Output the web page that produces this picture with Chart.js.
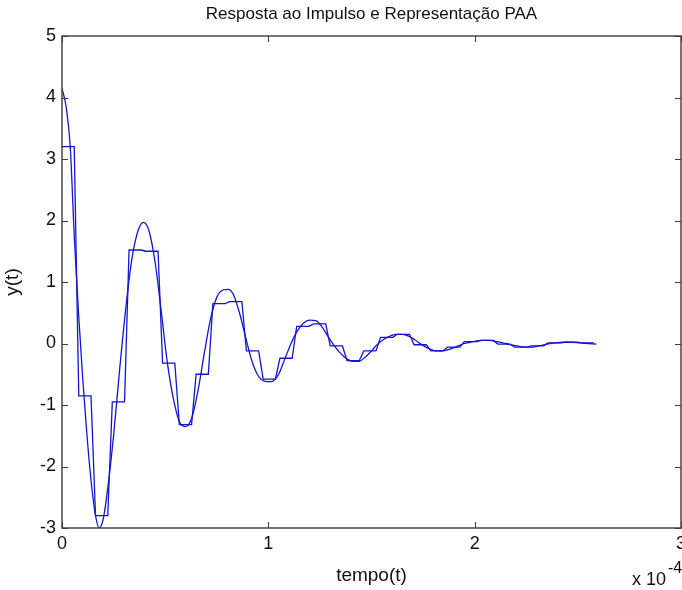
<!DOCTYPE html>
<html>
<head>
<meta charset="utf-8">
<title>Resposta ao Impulso e Representação PAA</title>
<script src="https://cdn.jsdelivr.net/npm/chart.js@4.4.1/dist/chart.umd.min.js"></script>
<style>
  html, body { margin: 0; padding: 0; background: #fff; }
  canvas { display: block; }
</style>
</head>
<body>
<canvas id="myChart" width="682" height="590"></canvas>
<script>
'use strict';
// data (time in units of 1e-4 s)
const curveTime = [
  0.000, 0.020, 0.040, 0.060, 0.080, 0.100, 0.120, 0.140, 0.160, 0.180,
  0.200, 0.220, 0.250, 0.280, 0.310, 0.340, 0.370, 0.395, 0.420, 0.450,
  0.480, 0.510, 0.540, 0.570, 0.600, 0.630, 0.660, 0.690, 0.720, 0.750,
  0.780, 0.805, 0.830, 0.860, 0.890, 0.920, 0.950, 0.980, 1.015, 1.050,
  1.080, 1.110, 1.140, 1.170, 1.200, 1.230, 1.260, 1.290, 1.320, 1.350,
  1.380, 1.410, 1.440, 1.470, 1.500, 1.530, 1.560, 1.590, 1.620, 1.650,
  1.680, 1.710, 1.740, 1.770, 1.800, 1.830, 1.860, 1.890, 1.920, 1.950,
  1.990, 2.030, 2.070, 2.110, 2.150, 2.190, 2.230, 2.270, 2.310, 2.350,
  2.390, 2.430, 2.470, 2.510, 2.550, 2.590
];
const curveValues = [
  4.15, 3.85, 3.20, 1.70, 0.50, -0.55, -1.45, -2.20, -2.75, -3.00,
  -2.85, -2.40, -1.50, -0.40, 0.60, 1.40, 1.85, 1.97, 1.85, 1.35,
  0.55, -0.30, -0.90, -1.28, -1.35, -1.20, -0.75, -0.15, 0.40, 0.75,
  0.87, 0.88, 0.80, 0.50, 0.10, -0.28, -0.52, -0.61, -0.62, -0.50,
  -0.25, 0.00, 0.20, 0.33, 0.38, 0.37, 0.27, 0.11, -0.04, -0.16,
  -0.25, -0.29, -0.29, -0.22, -0.12, -0.01, 0.07, 0.12, 0.15, 0.15,
  0.12, 0.06, -0.01, -0.07, -0.11, -0.12, -0.11, -0.08, -0.04, 0.00,
  0.03, 0.05, 0.05, 0.03, 0.00, -0.03, -0.055, -0.06, -0.04, -0.01,
  0.01, 0.02, 0.02, 0.01, 0.00, -0.01
];
// PAA segment means, equal width segments
const paaValues = [
  3.20, -0.85, -2.80, -0.95, 1.52, 1.50, -0.32, -1.32, -0.50, 0.65,
  0.68, -0.12, -0.58, -0.24, 0.28, 0.32, -0.04, -0.28, -0.12, 0.10,
  0.15, -0.02, -0.12, -0.06, 0.03, 0.05, -0.01, -0.06, -0.04, 0.01,
  0.02, 0.01
];
const segmentWidth = 0.08125;
const segmentGap = 0.022; // last sample of a segment to first of the next

const xTicks = [0, 1, 2, 3];
const yTicks = [-3, -2, -1, 0, 1, 2, 3, 4, 5];

const lineColor = 'rgb(20, 20, 210)';
const axisColor = '#3a3a3a';
const fontFamily = '"Liberation Sans", Arial, sans-serif';

// build point lists
const curvePoints = curveTime.map((t, i) => ({ x: t, y: curveValues[i] }));
const paaPoints = [];
for (let k = 0; k < paaValues.length; k++) {
  paaPoints.push({ x: k * segmentWidth, y: paaValues[k] });
  paaPoints.push({ x: (k + 1) * segmentWidth - segmentGap, y: paaValues[k] });
}

// matlab style frame: box, inward ticks, title and labels
const matlabFrame = {
  id: 'matlabFrame',
  afterDraw(chart) {
    const ctx = chart.ctx;
    const area = chart.chartArea;
    const xs = chart.scales.x;
    const ys = chart.scales.y;
    const tl = 6;
    ctx.save();
    ctx.strokeStyle = axisColor;
    ctx.lineWidth = 1.4;
    ctx.strokeRect(area.left, area.top, area.right - area.left, area.bottom - area.top);
    ctx.lineWidth = 1;
    ctx.beginPath();
    xTicks.forEach(v => {
      const px = Math.round(xs.getPixelForValue(v)) + 0.5;
      ctx.moveTo(px, area.bottom);
      ctx.lineTo(px, area.bottom - tl);
      ctx.moveTo(px, area.top);
      ctx.lineTo(px, area.top + tl);
    });
    yTicks.forEach(v => {
      const py = Math.round(ys.getPixelForValue(v)) + 0.5;
      ctx.moveTo(area.left, py);
      ctx.lineTo(area.left + tl, py);
      ctx.moveTo(area.right, py);
      ctx.lineTo(area.right - tl, py);
    });
    ctx.stroke();

    ctx.fillStyle = '#111';
    ctx.textAlign = 'center';
    ctx.textBaseline = 'alphabetic';
    ctx.font = '17px ' + fontFamily;
    ctx.fillText('Resposta ao Impulso e Representação PAA', (area.left + area.right) / 2, 19);

    ctx.font = '19px ' + fontFamily;
    ctx.fillText('tempo(t)', (area.left + area.right) / 2, 581);

    ctx.save();
    ctx.translate(18, (area.top + area.bottom) / 2);
    ctx.rotate(-Math.PI / 2);
    ctx.fillText('y(t)', 0, 0);
    ctx.restore();

    ctx.textAlign = 'left';
    ctx.font = '18px ' + fontFamily;
    ctx.fillText('x 10', 632, 585);
    ctx.font = '16px ' + fontFamily;
    ctx.fillText('-4', 668, 573);
    ctx.restore();
  }
};

const ctx = document.getElementById('myChart').getContext('2d');
new Chart(ctx, {
  type: 'line',
  data: {
    datasets: [
      {
        label: 'resposta',
        data: curvePoints,
        borderColor: lineColor,
        borderWidth: 1.3,
        pointRadius: 0,
        fill: false,
        cubicInterpolationMode: 'monotone',
      },
      {
        label: 'PAA',
        data: paaPoints,
        borderColor: lineColor,
        borderWidth: 1.3,
        pointRadius: 0,
        fill: false,
        tension: 0,
      },
    ],
  },
  options: {
    responsive: false,
    animation: false,
    events: [],
    layout: { padding: { top: 36, right: 1, left: 0, bottom: 0 } },
    plugins: {
      legend: { display: false },
      tooltip: { enabled: false },
    },
    scales: {
      x: {
        type: 'linear',
        min: 0,
        max: 3,
        afterBuildTicks(scale) {
          scale.ticks = xTicks.map(v => ({ value: v }));
        },
        afterFit(scale) {
          scale.height = 62;
          scale.paddingLeft = 0;
          scale.paddingRight = 0;
        },
        grid: { display: false, drawTicks: false },
        border: { display: false },
        ticks: {
          padding: 5,
          color: '#111',
          maxRotation: 0,
          font: { family: fontFamily, size: 18 },
        },
      },
      y: {
        type: 'linear',
        min: -3,
        max: 5,
        afterBuildTicks(scale) {
          scale.ticks = yTicks.map(v => ({ value: v }));
        },
        afterFit(scale) {
          scale.width = 62;
        },
        grid: { display: false, drawTicks: false },
        border: { display: false },
        ticks: {
          padding: 6,
          color: '#111',
          font: { family: fontFamily, size: 18 },
        },
      },
    },
  },
  plugins: [matlabFrame],
});
</script>
</body>
</html>
